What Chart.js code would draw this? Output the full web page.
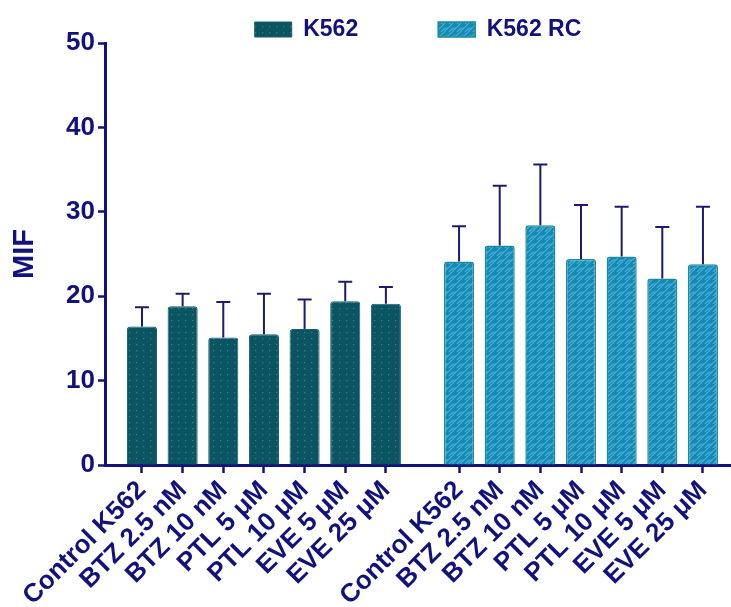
<!DOCTYPE html>
<html>
<head>
<meta charset="utf-8">
<script src="https://cdn.jsdelivr.net/npm/chart.js@4/dist/chart.umd.min.js"></script>
<style>
  html, body { margin: 0; padding: 0; background: #fff; }
</style>
</head>
<body>
<canvas id="mifChart" width="731" height="607"></canvas>
<script>
// Treatments (same for both cell lines)
const treatments = ['Control K562', 'BTZ 2.5 nM', 'BTZ 10 nM', 'PTL 5 \u03bcM', 'PTL 10 \u03bcM', 'EVE 5 \u03bcM', 'EVE 25 \u03bcM'];

// Mean MIF and upper error (SD)
const k562Mean = [16.4, 18.8, 15.1, 15.5, 16.1, 19.4, 19.1];
const k562Err  = [2.3, 1.5, 4.2, 4.8, 3.5, 2.3, 2.0];
const rcMean   = [24.1, 26.0, 28.4, 24.4, 24.7, 22.1, 23.8];
const rcErr    = [4.2, 7.1, 7.2, 6.4, 5.9, 6.1, 6.8];

const yTicks = [0, 10, 20, 30, 40, 50];

const navy = '#12127e';
const fontFamily = '"Liberation Sans", Arial, sans-serif';
const groupShift = 7.8; // second group starts after a small gap

const canvas = document.getElementById('mifChart');
const ctx = canvas.getContext('2d');

function dotPattern() {
    const c = document.createElement('canvas');
    c.width = 7; c.height = 6;
    const g = c.getContext('2d');
    g.fillStyle = '#0b5563';
    g.fillRect(0, 0, 7, 6);
    g.fillStyle = '#2f7f89';
    g.fillRect(3, 2, 1.3, 1.3);
    return ctx.createPattern(c, 'repeat');
}

function brickPattern() {
    const c = document.createElement('canvas');
    c.width = 8; c.height = 8;
    const g = c.getContext('2d');
    g.fillStyle = '#1a88a9';
    g.fillRect(0, 0, 8, 8);
    g.strokeStyle = '#3fb0e8';
    g.lineWidth = 1.2;
    g.beginPath();
    g.moveTo(0, 4); g.lineTo(4, 0);
    g.moveTo(4, 8); g.lineTo(8, 4);
    g.moveTo(1, 8); g.lineTo(5, 4);
    g.moveTo(5, 4); g.lineTo(8, 4);
    g.stroke();
    return ctx.createPattern(c, 'repeat');
}

// upward error bars with caps
const errorBars = {
    id: 'errorBars',
    afterDatasetsDraw(chart) {
        const c = chart.ctx;
        const y = chart.scales.y;
        c.save();
        c.strokeStyle = '#1d1a70';
        c.lineWidth = 2;
        chart.data.datasets.forEach((ds, di) => {
            const meta = chart.getDatasetMeta(di);
            meta.data.forEach((bar, i) => {
                const top = y.getPixelForValue(ds.data[i].y + ds.errors[i]);
                c.beginPath();
                c.moveTo(bar.x, bar.y);
                c.lineTo(bar.x, top);
                c.moveTo(bar.x - 7, top);
                c.lineTo(bar.x + 7, top);
                c.stroke();
            });
        });
        c.restore();
    }
};

const allLabels = treatments.concat(treatments);
const xPositions = treatments.map((t, i) => i + 1).concat(treatments.map((t, i) => i + 1 + groupShift));

new Chart(ctx, {
    type: 'bar',
    data: {
        datasets: [{
            label: 'K562',
            data: k562Mean.map((v, i) => ({ x: i + 1, y: v })),
            errors: k562Err,
            backgroundColor: dotPattern(),
            borderColor: '#14606c',
            borderWidth: 1,
            borderRadius: 3,
            grouped: false,
            barPercentage: 0.74,
            categoryPercentage: 1
        }, {
            label: 'K562 RC',
            data: rcMean.map((v, i) => ({ x: i + 1 + groupShift, y: v })),
            errors: rcErr,
            backgroundColor: brickPattern(),
            borderColor: '#1a8aa0',
            borderWidth: 1.5,
            borderRadius: 3,
            grouped: false,
            barPercentage: 0.74,
            categoryPercentage: 1
        }]
    },
    options: {
        responsive: false,
        animation: false,
        layout: { padding: { top: -62, right: 0, left: 0, bottom: 0 } },
        plugins: {
            tooltip: { enabled: false },
            legend: {
                position: 'top',
                fullSize: false,
                maxHeight: 105,
                labels: {
                    boxWidth: 37,
                    boxHeight: 15,
                    padding: 80,
                    color: navy,
                    font: { family: fontFamily, size: 23, weight: 'bold' }
                }
            }
        },
        scales: {
            x: {
                type: 'linear',
                min: 0.09,
                max: 15.49,
                offset: false,
                afterBuildTicks: scale => { scale.ticks = xPositions.map(v => ({ value: v })); },
                afterFit: scale => { scale.height = 142; },
                border: { color: navy, width: 3 },
                grid: { offset: false, drawOnChartArea: false, tickLength: 8, tickWidth: 2.5, tickColor: navy },
                ticks: {
                    autoSkip: false,
                    minRotation: 45,
                    maxRotation: 45,
                    padding: 2,
                    color: navy,
                    font: { family: fontFamily, size: 26, weight: 'bold' },
                    callback: (value, index) => allLabels[index]
                }
            },
            y: {
                min: 0,
                max: 50,
                afterBuildTicks: scale => { scale.ticks = yTicks.map(v => ({ value: v })); },
                afterFit: scale => { scale.width = 105; },
                border: { color: navy, width: 3 },
                grid: { drawOnChartArea: false, tickLength: 7, tickWidth: 2.5, tickColor: navy },
                ticks: {
                    padding: 3,
                    color: navy,
                    font: { family: fontFamily, size: 26, weight: 'bold' }
                },
                title: {
                    display: true,
                    text: 'MIF',
                    color: navy,
                    padding: { top: 8, bottom: 0 },
                    font: { family: fontFamily, size: 29, weight: 'bold' }
                }
            }
        }
    },
    plugins: [errorBars]
});
</script>
</body>
</html>
